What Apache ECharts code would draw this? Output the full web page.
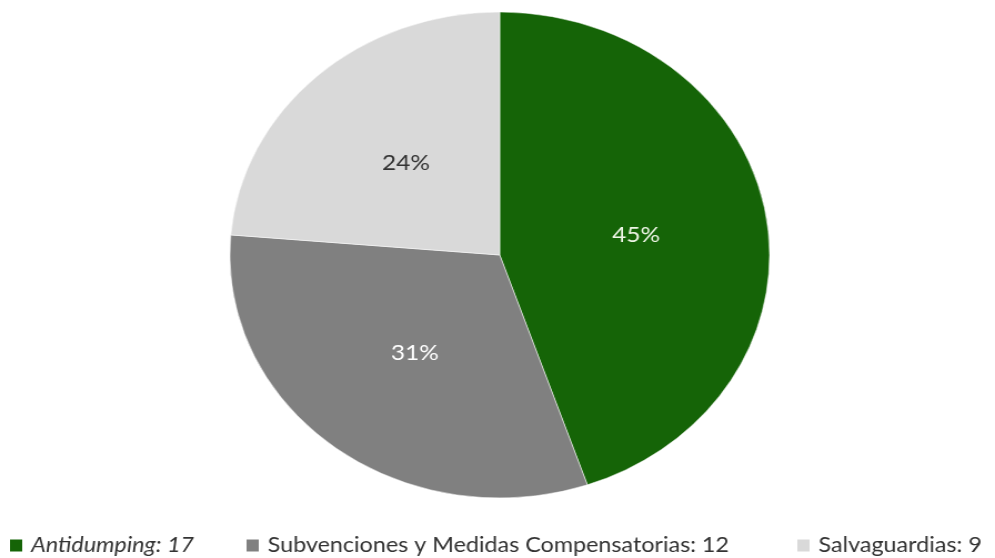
<!DOCTYPE html>
<html><head><meta charset="utf-8">
<script src="https://cdn.jsdelivr.net/npm/echarts@6/dist/echarts.min.js"></script>
<style>
html,body{margin:0;padding:0;background:#fff;overflow:hidden;}
#wrap{width:995px;height:558px;overflow:hidden;}
#c{width:896px;height:558px;transform:scaleX(1.1105);transform-origin:0 0;}
</style></head>
<body><div id="wrap"><div id="c"></div></div>
<script>
const categories = ['Antidumping', 'Subvenciones y Medidas Compensatorias', 'Salvaguardias'];
const values = [17, 12, 9];
const colors = ['#156407', '#808080', '#d9d9d9'];
const labelColors = ['#eef5e6', '#ffffff', '#333333'];
const legendLeft = [7, 220, 716];

const chart = echarts.init(document.getElementById('c'));
chart.setOption({
  animation: false,
  legend: categories.map((n, i) => ({
    bottom: 2,
    left: legendLeft[i],
    padding: 0,
    icon: 'rect',
    itemWidth: 13,
    itemHeight: 14,
    itemGap: 0,
    data: [{ name: n, textStyle: { fontStyle: i === 0 ? 'italic' : 'normal' } }],
    formatter: function (name) {
      return name + ': ' + values[categories.indexOf(name)];
    },
    textStyle: { fontFamily: 'Lato', fontSize: 21, color: '#333', padding: [0, 0, 0, 2] }
  })),
  series: [{
    type: 'pie',
    center: [450, 255],
    radius: 243,
    startAngle: 90,
    clockwise: true,
    percentPrecision: 0,
    data: categories.map((n, i) => ({
      name: n, value: values[i],
      itemStyle: { color: colors[i] },
      label: { color: labelColors[i] }
    })),
    itemStyle: { borderColor: '#fff', borderWidth: 0.5 },
    label: {
      show: true, position: 'inside', formatter: '{d}%',
      fontFamily: 'Lato', fontSize: 22
    },
    labelLine: { show: false }
  }]
});
</script></body></html>
